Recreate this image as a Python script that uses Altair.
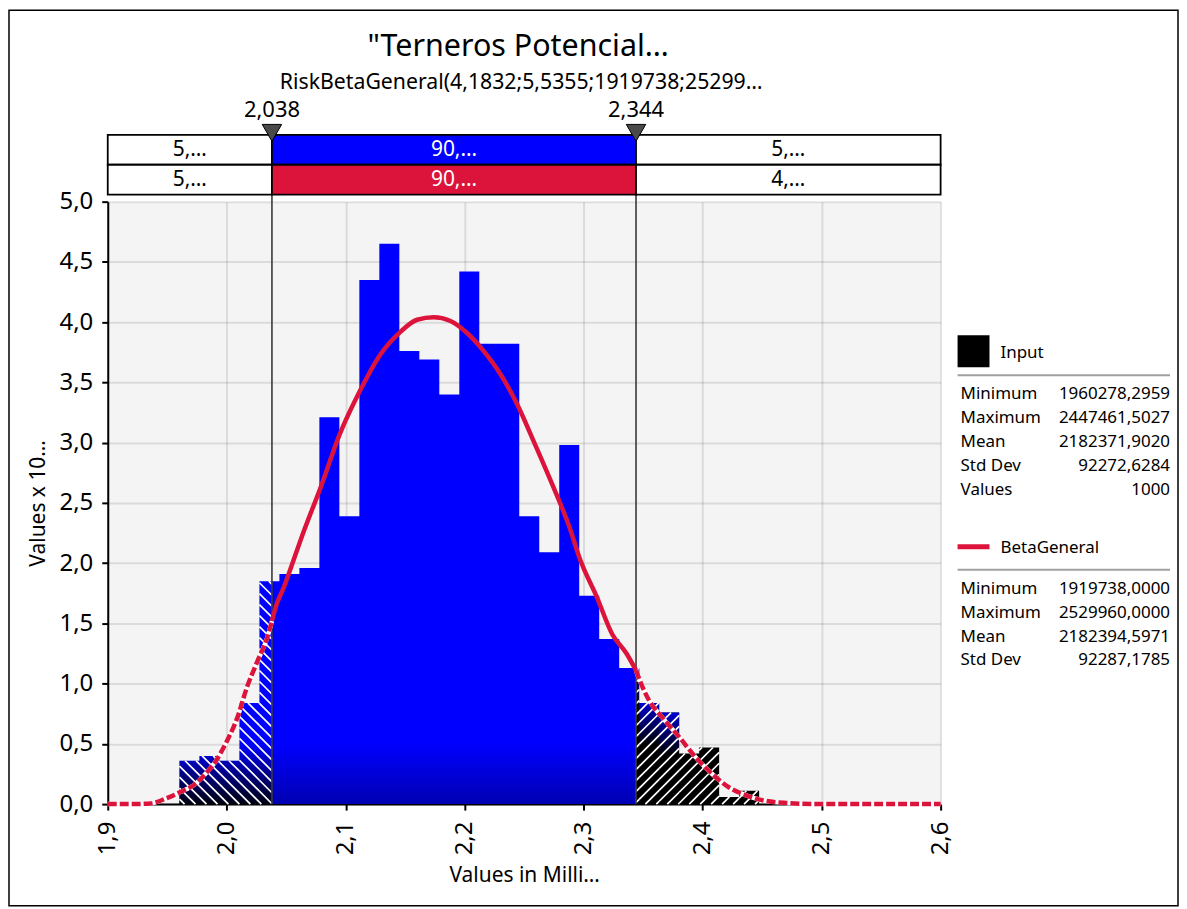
import altair as alt
import pandas as pd
import numpy as np

# ---------------- data ----------------
title_text = "\"Terneros Potencial…"
subtitle_text = "RiskBetaGeneral(4,1832;5,5355;1919738;25299…"
x_title = "Values in Milli…"
y_title = "Values x 10…"

hist_min = 1.9602782959   # millions
hist_max = 2.4474615027   # millions
hist_heights = [0.36, 0.40, 0.36, 0.84, 1.85, 1.91, 1.96, 3.21, 2.39, 4.35,
                4.65, 3.76, 3.69, 3.40, 4.42, 3.82, 3.82, 2.39, 2.09, 2.98,
                1.73, 1.37, 1.13, 0.84, 0.76, 0.42, 0.47, 0.06, 0.11]

cut_values = [2.038, 2.344]
cut_labels = ["2,038", "2,344"]
band_row1 = ["5,…", "90,…", "5,…"]
band_row2 = ["5,…", "90,…", "4,…"]

curve_x = [1.900, 1.920, 1.936, 1.949, 1.961, 1.974, 1.982, 1.991, 2.000, 2.009,
           2.017, 2.026, 2.034, 2.038, 2.042, 2.048, 2.056, 2.065, 2.079, 2.095,
           2.112, 2.129, 2.146, 2.160, 2.174, 2.188, 2.202, 2.216, 2.230, 2.244,
           2.258, 2.272, 2.288, 2.297, 2.311, 2.324, 2.336, 2.344, 2.347, 2.355,
           2.366, 2.380, 2.394, 2.408, 2.422, 2.436, 2.450, 2.470, 2.500, 2.550,
           2.600]
curve_y = [0.0, 0.0, 0.006, 0.047, 0.10, 0.17, 0.25, 0.36, 0.52, 0.72,
           0.97, 1.19, 1.38, 1.52, 1.66, 1.80, 2.02, 2.27, 2.63, 3.07,
           3.43, 3.73, 3.92, 4.02, 4.04, 4.01, 3.91, 3.76, 3.57, 3.32,
           3.01, 2.69, 2.30, 2.03, 1.72, 1.41, 1.25, 1.11, 1.03, 0.86,
           0.72, 0.56, 0.39, 0.25, 0.14, 0.075, 0.033, 0.01, 0.0, 0.0,
           0.0]

x_ticks = [1.9, 2.0, 2.1, 2.2, 2.3, 2.4, 2.5, 2.6]
y_ticks = [0.0, 0.5, 1.0, 1.5, 2.0, 2.5, 3.0, 3.5, 4.0, 4.5, 5.0]

input_stat_names = ["Minimum", "Maximum", "Mean", "Std Dev", "Values"]
input_stat_values = ["1960278,2959", "2447461,5027", "2182371,9020", "92272,6284", "1000"]
beta_stat_names = ["Minimum", "Maximum", "Mean", "Std Dev"]
beta_stat_values = ["1919738,0000", "2529960,0000", "2182394,5971", "92287,1785"]

# ---------------- layout / style ----------------
W, H = 835, 604
XMIN, XMAX, YMAX = 1.9, 2.6, 5.0
PXX = W / (XMAX - XMIN)
PXY = H / YMAX
FONT = "Noto Sans"
BLUE = "#0000ff"
CRIMSON = "#dc143c"

xscale = alt.Scale(domain=[XMIN, XMAX], nice=False, zero=False)
yscale = alt.Scale(domain=[0, YMAX], nice=False, zero=True)
fmt = "replace(format(datum.value, '.1f'), '.', ',')"
xaxis = alt.Axis(values=x_ticks, labelExpr=fmt, labelAngle=270, title=x_title,
                 labelPadding=11, titlePadding=10)
yaxis = alt.Axis(values=y_ticks, labelExpr=fmt, title=y_title,
                 labelPadding=9, titlePadding=11)


def X(f):
    return alt.X(f, type="quantitative", scale=xscale, axis=xaxis)


def Y(f):
    return alt.Y(f, type="quantitative", scale=yscale, axis=yaxis)


# histogram pieces split by the cut values
n = len(hist_heights)
edges = [hist_min + i * (hist_max - hist_min) / n for i in range(n + 1)]
pieces = []
for i, h in enumerate(hist_heights):
    a, b = edges[i], edges[i + 1]
    for lo, hi, reg in [(a, min(b, cut_values[0]), "left"),
                        (max(a, cut_values[0]), min(b, cut_values[1]), "center"),
                        (max(a, cut_values[1]), b, "right")]:
        if hi > lo:
            pieces.append(dict(x0=lo, x1=hi, h=h, y0=0.0, region=reg,
                               sh=min(h, 0.5), top0=max(h - 0.35, 0)))
bars = pd.DataFrame(pieces)

# step outlines per region (one continuous shape per region -> no seams)
steps = []
for reg in ["left", "center", "right"]:
    ps = [p for p in pieces if p["region"] == reg]
    for p in ps:
        steps.append(dict(x=p["x0"], h=p["h"], sh=p["sh"], region=reg))
    steps.append(dict(x=ps[-1]["x1"], h=ps[-1]["h"], sh=ps[-1]["sh"], region=reg))
steps = pd.DataFrame(steps)


def grad(c0, c1):
    return alt.LinearGradient(gradient="linear",
                              stops=[alt.GradientStop(color=c0, offset=0),
                                     alt.GradientStop(color=c1, offset=1)],
                              x1=0, x2=0, y1=0, y2=1)


def step_area(reg, field, **mk):
    return alt.Chart(steps).transform_filter(f"datum.region == '{reg}'").mark_area(
        interpolate="step-after", **mk).encode(x=X("x"), y=Y(field))


base_left = step_area("left", "h", color=BLUE)
base_center = step_area("center", "h", color=BLUE)
base_right = step_area("right", "h", color="#000000")
ov_center = step_area("center", "sh", fill=grad("rgba(0,0,0,0)", "rgba(0,0,20,0.32)"))
ov_left = step_area("left", "sh", fill=grad("rgba(0,0,0,0)", "rgba(0,0,0,0.95)"))
ov_right = alt.Chart(bars).transform_filter("datum.region == 'right' && datum.h > 0.6").mark_rect(
    fill=grad("rgba(0,0,230,0.9)", "rgba(0,0,230,0)")).encode(x=X("x0"), x2="x1", y=Y("h"), y2="top0")

# hatch lines (derived from the bar pieces)
SP = 11.0
segs = []
for p in pieces:
    if p["region"] == "center":
        continue
    x0 = (p["x0"] - XMIN) * PXX
    x1 = (p["x1"] - XMIN) * PXX
    hp = p["h"] * PXY
    up = p["region"] == "right"
    cmin, cmax = (x0 - hp, x1) if up else (x0, x1 + hp)
    for k in range(int(np.floor(cmin / SP)), int(np.ceil(cmax / SP)) + 1):
        c = k * SP
        if up:
            s, e = max(x0, c), min(x1, c + hp)
            pts = (s, s - c, e, e - c)
        else:
            s, e = max(x0, c - hp), min(x1, c)
            pts = (s, c - s, e, c - e)
        if e - s > 0.4:
            segs.append(dict(xa=XMIN + pts[0] / PXX, ya=pts[1] / PXY,
                             xb=XMIN + pts[2] / PXX, yb=pts[3] / PXY))
hatch = alt.Chart(pd.DataFrame(segs)).mark_rule(color="white", strokeWidth=1.7).encode(
    x=X("xa"), y=Y("ya"), x2="xb", y2="yb")

cuts = pd.DataFrame({"x": cut_values, "label": cut_labels})
cut_rules = alt.Chart(cuts).mark_rule(color="#3a3a3a", strokeWidth=1.6).encode(
    x=X("x"), y=alt.value(-67), y2=alt.value(H))

# curve
rows = []
for cx, cy in zip(curve_x, curve_y):
    if cx <= cut_values[0]:
        rows.append(dict(x=cx, y=cy, seg="left"))
    if cut_values[0] <= cx <= cut_values[1]:
        rows.append(dict(x=cx, y=cy, seg="center"))
    if cx >= cut_values[1]:
        rows.append(dict(x=cx, y=cy, seg="right"))
curve = pd.DataFrame(rows)
tails = alt.Chart(curve).transform_filter("datum.seg != 'center'")
c_white = tails.mark_line(color="white", strokeWidth=4.5, interpolate="monotone").encode(
    x=X("x"), y=Y("y"), detail="seg:N")
c_dash = tails.mark_line(color=CRIMSON, strokeWidth=4.5, interpolate="monotone",
                         strokeDash=[9, 3]).encode(x=X("x"), y=Y("y"), detail="seg:N")
c_solid = alt.Chart(curve).transform_filter("datum.seg == 'center'").mark_line(
    color=CRIMSON, strokeWidth=4.5, interpolate="monotone").encode(x=X("x"), y=Y("y"))

# top bands
bx = [XMIN, cut_values[0], cut_values[1], XMAX]
band_layers = []
for r, (labels, mid_color) in enumerate([(band_row1, BLUE), (band_row2, CRIMSON)]):
    df = pd.DataFrame({
        "x0": bx[:3], "x1": bx[1:], "xm": [(bx[j] + bx[j + 1]) / 2 for j in range(3)],
        "label": labels,
        "fill": ["white", mid_color, "white"],
        "tc": ["black", "white", "black"]})
    top = -67 + 30 * r
    band_layers.append(alt.Chart(df).mark_rect(stroke="black", strokeWidth=1.8).encode(
        x=X("x0"), x2="x1", y=alt.value(top), y2=alt.value(top + 30),
        color=alt.Color("fill:N", scale=None)))
    band_layers.append(alt.Chart(df).mark_text(font=FONT, fontSize=21, baseline="middle").encode(
        x=X("xm"), y=alt.value(top + 15), text="label:N", color=alt.Color("tc:N", scale=None)))

cut_text = alt.Chart(cuts).mark_text(font=FONT, fontSize=22, baseline="alphabetic").encode(
    x=X("x"), y=alt.value(-85), text="label:N")
tri = alt.Chart(cuts).mark_point(shape="triangle-down", filled=True, size=380, opacity=1,
                                 fill="#4a4a4a", stroke="black", strokeWidth=1).encode(
    x=X("x"), y=alt.value(-69))


def txt(s, x, y, size, align="center", color="black", **kw):
    return alt.Chart(pd.DataFrame({"t": [s]})).mark_text(
        font=FONT, fontSize=size, align=align, baseline="alphabetic", color=color, **kw).encode(
        x=alt.value(x), y=alt.value(y), text="t:N")


title = txt(title_text, W / 2 - 6, -146, 30.5)
subtitle = txt(subtitle_text, W / 2 - 3, -113, 21.3)

one = pd.DataFrame({"a": [0]})
LEG = 17
legend_layers = [
    alt.Chart(one).mark_rect(color="black").encode(
        x=alt.value(852), x2=alt.value(884), y=alt.value(134), y2=alt.value(166)),
    txt("Input", 895, 157, LEG, align="left"),
    alt.Chart(one).mark_rule(color="#a0a0a0", strokeWidth=2).encode(
        x=alt.value(852), x2=alt.value(1065), y=alt.value(174)),
    txt("\n".join(input_stat_names), 855, 198, LEG, align="left", lineBreak="\n", lineHeight=24),
    txt("\n".join(input_stat_values), 1065, 198, LEG, align="right", lineBreak="\n", lineHeight=24),
    alt.Chart(one).mark_rule(color=CRIMSON, strokeWidth=5).encode(
        x=alt.value(852), x2=alt.value(884), y=alt.value(346)),
    txt("BetaGeneral", 895, 352, LEG, align="left"),
    alt.Chart(one).mark_rule(color="#a0a0a0", strokeWidth=2).encode(
        x=alt.value(852), x2=alt.value(1065), y=alt.value(369)),
    txt("\n".join(beta_stat_names), 855, 393, LEG, align="left", lineBreak="\n", lineHeight=24),
    txt("\n".join(beta_stat_values), 1065, 393, LEG, align="right", lineBreak="\n", lineHeight=24),
]

border = alt.Chart(one).mark_rect(fill="transparent", stroke="black", strokeWidth=1.5).encode(
    x=alt.value(-99), x2=alt.value(1073), y=alt.value(-192), y2=alt.value(706))

chart = alt.layer(
    base_left, base_center, base_right, ov_center, ov_left, ov_right, hatch, cut_rules,
    c_white, c_dash, c_solid,
    *band_layers, tri, cut_text, title, subtitle, *legend_layers, border
).properties(width=W, height=H, padding=0, background="white").configure_view(
    fill="#f4f4f4", stroke="transparent"
).configure_axis(
    labelFont=FONT, labelFontSize=24, labelColor="black",
    titleFont=FONT, titleFontSize=21, titleFontWeight="normal", titleColor="black",
    domainColor="black", domainWidth=2, tickColor="black", tickWidth=2, tickSize=6,
    gridColor="black", gridOpacity=0.1, gridWidth=2, zindex=1
)

chart.save("out.html", embed_options={"renderer": "svg", "actions": False})
